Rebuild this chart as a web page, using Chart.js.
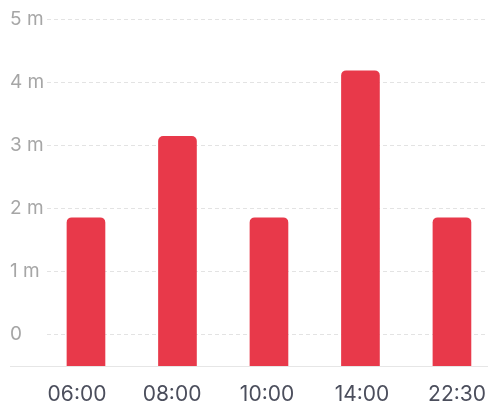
<!DOCTYPE html>
<html>
<head>
<meta charset="utf-8">
<script src="https://cdn.jsdelivr.net/npm/chart.js@4"></script>
<style>
  html, body { margin: 0; padding: 0; background: #fff; overflow: hidden; }
  #wrap { width: 488px; height: 411px; position: relative; }
</style>
</head>
<body>
<div id="wrap"><canvas id="myChart"></canvas></div>
<script>
// data
const times = ['06:00', '08:00', '10:00', '14:00', '22:30'];
const minutes = [1.85, 3.14, 1.85, 4.18, 1.85];
const yTicks = [0, 1, 2, 3, 4, 5];
const yTickLabels = ['0', '1 m', '2 m', '3 m', '4 m', '5 m'];

// bottom axis line that runs under the y labels too
const baseLine = {
  id: 'baseLine',
  afterDatasetsDraw(chart) {
    const { ctx, chartArea, scales } = chart;
    const y = Math.round(scales.y.getPixelForValue(scales.y.min)) + 0.5;
    ctx.save();
    ctx.strokeStyle = '#e6e6e6';
    ctx.lineWidth = 1;
    ctx.beginPath();
    ctx.moveTo(10, y);
    ctx.lineTo(chartArea.right, y);
    ctx.stroke();
    ctx.restore();
  }
};

const ctx = document.getElementById('myChart').getContext('2d');
new Chart(ctx, {
  type: 'bar',
  data: {
    datasets: [{
      xAxisID: 'xb',
      data: minutes.map((v, i) => ({ x: i, y: v })),
      backgroundColor: '#e8394a',
      borderRadius: { topLeft: 5, topRight: 5 },
      borderSkipped: 'start',
      barThickness: 38,
      base: -0.5
    }]
  },
  options: {
    responsive: true,
    maintainAspectRatio: false,
    animation: false,
    layout: { padding: { top: 19, left: 10, right: 0, bottom: 0 } },
    plugins: { legend: { display: false }, tooltip: { enabled: false } },
    scales: {
      // bars are placed on this hidden axis
      xb: {
        type: 'linear',
        display: false,
        offset: false,
        min: -0.426,
        max: 4.394
      },
      // time labels sit on a slightly wider spacing than the bars
      x: {
        type: 'linear',
        position: 'bottom',
        offset: false,
        min: -0.316,
        max: 4.326,
        grid: { display: false, drawTicks: false, offset: false },
        border: { display: false },
        afterBuildTicks: (axis) => { axis.ticks = times.map((_, i) => ({ value: i })); },
        afterFit: (axis) => { axis.height = 45; axis.paddingLeft = 0; axis.paddingRight = 0; },
        ticks: {
          padding: 16,
          color: '#4b4e5c',
          font: { family: 'Inter', size: 21 },
          callback: (value) => times[value]
        }
      },
      y: {
        min: -0.5,
        max: 5,
        grid: { color: '#e3e3e3', drawTicks: false },
        border: { display: false, dash: [4, 3] },
        afterBuildTicks: (axis) => { axis.ticks = yTicks.map(v => ({ value: v })); },
        afterFit: (axis) => { axis.width = 37; },
        ticks: {
          crossAlign: 'far',
          padding: 2,
          color: '#a6a6a6',
          font: { family: 'Inter', size: 19 },
          callback: (value) => yTickLabels[yTicks.indexOf(value)]
        }
      }
    }
  },
  plugins: [baseLine]
});
</script>
</body>
</html>
